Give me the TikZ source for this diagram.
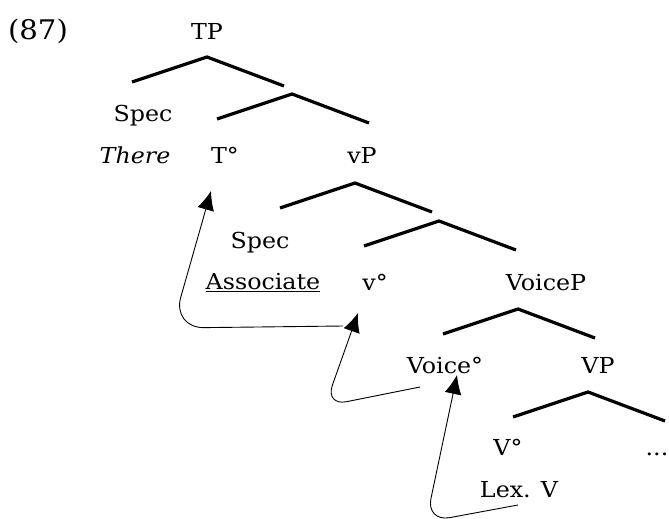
\documentclass[tikz,border=0pt]{standalone}
\usepackage{fontspec}
\setmainfont{DejaVu Serif}[FakeStretch=1.08]
\usetikzlibrary{arrows.meta}

\tikzset{
  lab/.style={anchor=base, inner sep=0pt, font=\fontsize{22}{26}\selectfont},
  exnum/.style={anchor=base, inner sep=0pt, font=\fontsize{27}{32}\selectfont},
  roof/.style={line width=3.2pt},
  move/.style={line width=0.9pt, -{Latex[length=19pt,width=17pt]}, rounded corners=#1},
  move/.default=26pt,
}
% roof with its apex at #1
\newcommand{\roof}[1]{\draw[roof] (#1) +(-75,25) -- (#1) -- +(77,29);}

\begin{document}
\begin{tikzpicture}[x=1pt,y=-1pt]
  \useasboundingbox (0,0) rectangle (669,519);
  % Labels
  \node[exnum] (ex) at (38,40) {(87)};
  \node[lab] (TP) at (207,40) {TP};
  \node[lab] (specT) at (143,121) {Spec};
  \node[lab] (there) at (135,163) {\textit{There}};
  \node[lab] (Thead) at (225,163) {T°};
  \node[lab] (vP) at (362,163) {vP};
  \node[lab] (specv) at (260,248) {Spec};
  \node[lab] (assoc) at (263,289) {\underline{Associate}};
  \node[lab] (vhead) at (375,290) {v°};
  \node[lab] (VoiceP) at (546,290) {VoiceP};
  \node[lab] (voicehead) at (445,373) {Voice°};
  \node[lab] (VP) at (598,373) {VP};
  \node[lab] (Vhead) at (508,455) {V°};
  \node[lab] (dots) at (657,455) {...};
  \node[lab] (lexV) at (519,497) {Lex. V};
  % Roofs
  \roof{207,57}
  \roof{292,94}
  \roof{355,183}
  \roof{439,221}
  \roof{518,309}
  \roof{588,392}
  % Movements
  \coordinate (vtrace) at (343,326);
  \coordinate (Ttip) at (211,191);
  \coordinate (voicetrace) at (420,387);
  \coordinate (vtip) at (358,313);
  \coordinate (lextrace) at (518,505);
  \coordinate (voicetip) at (457,375);
  \draw[move=32pt] (vtrace) -- (172,328) -- (Ttip);
  \draw[move=22pt] (voicetrace) -- (325,406) -- (vtip);
  \draw[move=24pt] (lextrace) -- (426,522) -- (voicetip);
\end{tikzpicture}
\end{document}
